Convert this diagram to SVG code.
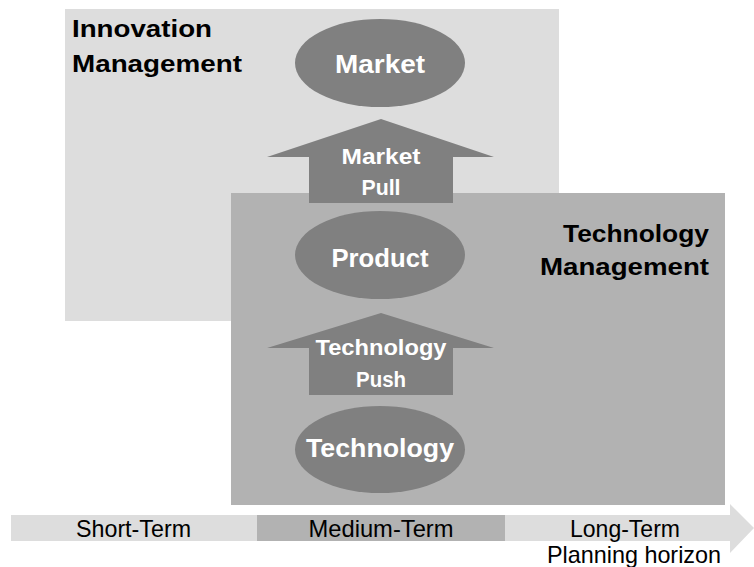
<svg xmlns="http://www.w3.org/2000/svg" width="754" height="567" viewBox="0 0 754 567">
<style>
.bg{fill:#ffffff}
.light{fill:#dddddd}
.mid{fill:#b2b2b2}
.dark{fill:#808080}
.title{font-family:"Liberation Sans",Arial,sans-serif;font-weight:bold;font-size:23px;fill:#000000}
.node{font-family:"Liberation Sans",Arial,sans-serif;font-weight:bold;font-size:26.5px;fill:#ffffff;text-anchor:middle}
.lbl{font-family:"Liberation Sans",Arial,sans-serif;font-weight:bold;font-size:22px;fill:#ffffff;text-anchor:middle}
.axis{font-family:"Liberation Sans",Arial,sans-serif;font-size:24px;fill:#000000;text-anchor:middle}
</style>
<rect class="bg" x="0" y="0" width="754" height="567"/>
<g id="innovation-management">
<rect class="light" x="65" y="9" width="494" height="312"/>
<text class="title" x="72" y="37" textLength="140" lengthAdjust="spacingAndGlyphs">Innovation</text>
<text class="title" x="72" y="72" textLength="170" lengthAdjust="spacingAndGlyphs">Management</text>
</g>
<g id="technology-management">
<rect class="mid" x="231" y="193" width="494" height="312"/>
<text class="title" x="709" y="242" text-anchor="end" textLength="146" lengthAdjust="spacingAndGlyphs">Technology</text>
<text class="title" x="709" y="275" text-anchor="end" textLength="169" lengthAdjust="spacingAndGlyphs">Management</text>
</g>
<g id="market">
<ellipse class="dark" cx="380" cy="63" rx="85" ry="44"/>
<text class="node" x="380" y="73" textLength="90" lengthAdjust="spacingAndGlyphs">Market</text>
</g>
<g id="product">
<ellipse class="dark" cx="380" cy="255" rx="85" ry="44"/>
<text class="node" x="380" y="266.5" textLength="97" lengthAdjust="spacingAndGlyphs">Product</text>
</g>
<g id="technology">
<ellipse class="dark" cx="380" cy="449.5" rx="85" ry="43.5"/>
<text class="node" x="380" y="457" textLength="148" lengthAdjust="spacingAndGlyphs">Technology</text>
</g>
<g id="connectors">
<g id="market-pull">
<polygon class="dark" points="381,119 494,157 453,157 453,203 309,203 309,157 267,157"/>
<text class="lbl" x="381" y="164" textLength="79" lengthAdjust="spacingAndGlyphs">Market</text>
<text class="lbl" x="381" y="195" textLength="39" lengthAdjust="spacingAndGlyphs">Pull</text>
</g>
<g id="technology-push">
<polygon class="dark" points="381,313 494,348 453,348 453,395 309,395 309,348 267,348"/>
<text class="lbl" x="381" y="355" textLength="131" lengthAdjust="spacingAndGlyphs">Technology</text>
<text class="lbl" x="381" y="387" textLength="50" lengthAdjust="spacingAndGlyphs">Push</text>
</g>
</g>
<g id="planning-horizon">
<polygon class="light" points="11,515 730,515 730,504 754,528 730,553 730,541 11,541"/>
<rect class="mid" x="257" y="515" width="248" height="26"/>
<text class="axis" x="133.5" y="537" textLength="115" lengthAdjust="spacingAndGlyphs">Short-Term</text>
<text class="axis" x="381" y="537" textLength="145" lengthAdjust="spacingAndGlyphs">Medium-Term</text>
<text class="axis" x="625" y="537" textLength="110" lengthAdjust="spacingAndGlyphs">Long-Term</text>
<text class="axis" x="634" y="563" textLength="174" lengthAdjust="spacingAndGlyphs">Planning horizon</text>
</g>
</svg>
